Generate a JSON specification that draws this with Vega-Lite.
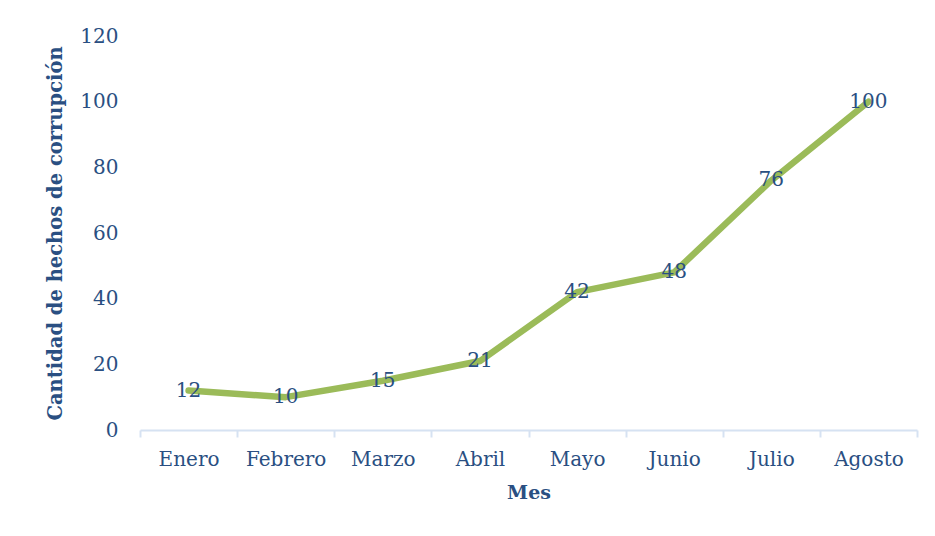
{
  "$schema": "https://vega.github.io/schema/vega-lite/v6.json",
  "autosize": "none",
  "width": 777,
  "height": 394,
  "padding": {"left": 140, "top": 36, "right": 18, "bottom": 106},
  "background": "white",
  "config": {"view": {"stroke": null}, "font": "DejaVu Serif"},
  "data": {"values": [
    {"mes": "Enero", "valor": 12},
    {"mes": "Febrero", "valor": 10},
    {"mes": "Marzo", "valor": 15},
    {"mes": "Abril", "valor": 21},
    {"mes": "Mayo", "valor": 42},
    {"mes": "Junio", "valor": 48},
    {"mes": "Julio", "valor": 76},
    {"mes": "Agosto", "valor": 100}
  ]},
  "encoding": {
    "x": {"field": "mes", "type": "ordinal", "sort": null, "bandPosition": 0.5,
      "scale": {"type": "band", "paddingInner": 0, "paddingOuter": 0},
      "axis": {"title": "Mes", "labelAngle": 0, "tickBand": "extent", "domainColor": "#D6E2F2", "domainWidth": 2, "tickColor": "#D6E2F2", "tickWidth": 2, "tickSize": 7,
        "labelFont": "DejaVu Serif", "labelFontSize": 20, "labelColor": "#2A4F82", "labelPadding": 12,
        "titleFont": "DejaVu Serif", "titleFontSize": 19, "titleFontWeight": "bold", "titleColor": "#2A4F82", "titlePadding": 14}},
    "y": {"field": "valor", "type": "quantitative", "scale": {"domain": [0, 120]},
      "axis": {"title": "Cantidad de hechos de corrupción", "values": [0, 20, 40, 60, 80, 100, 120], "grid": false, "domain": false, "ticks": false,
        "labelFont": "DejaVu Serif", "labelFontSize": 20, "labelColor": "#2A4F82", "labelPadding": 22,
        "titleFont": "DejaVu Serif", "titleFontSize": 19.5, "titleFontWeight": "bold", "titleColor": "#2A4F82", "titlePadding": 14}}
  },
  "layer": [
    {"mark": {"type": "line", "color": "#9BBB59", "strokeWidth": 6.5, "strokeCap": "round", "strokeJoin": "round"}},
    {"mark": {"type": "text", "font": "DejaVu Serif", "fontSize": 20, "color": "#2A4F82", "baseline": "middle", "align": "center"},
      "encoding": {"text": {"field": "valor", "type": "quantitative"}}}
  ]
}
